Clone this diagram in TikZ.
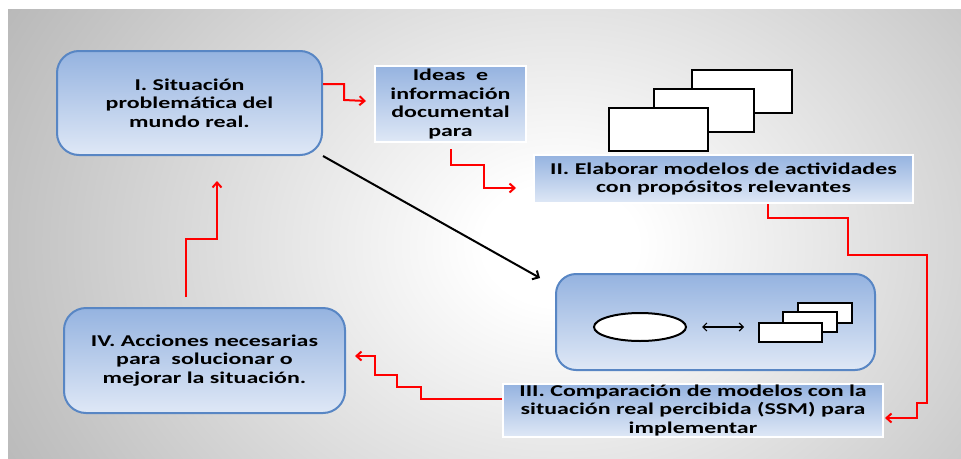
\documentclass[tikz,border=0pt]{standalone}
\usepackage{fontspec}
\setmainfont{Carlito}[FakeStretch=1.45]
\usetikzlibrary{arrows.meta,shapes.geometric}

\definecolor{fondogris}{HTML}{9A9A9A}
\definecolor{fondomedio}{HTML}{A8A8A8}
\definecolor{fondoclaro}{HTML}{C4C4C4}
\definecolor{cajaarriba}{HTML}{95B3E0}
\definecolor{cajaabajo}{HTML}{DFE8F6}
\definecolor{cajaborde}{HTML}{5886C4}

\pgfdeclareradialshading{fondo}{\pgfpoint{0bp}{0bp}}{color(0bp)=(white); color(2bp)=(white); color(14bp)=(fondoclaro); color(20bp)=(fondomedio); color(27.5bp)=(fondogris); color(50bp)=(fondogris)}

\begin{document}
\begin{tikzpicture}[x=1pt,y=-1pt,
    texto/.style={font=\bfseries\fontsize{16.5}{18.5}\selectfont, align=center, inner sep=0pt},
    caja/.style={texto, draw=cajaborde, line width=2pt, rounded corners=22pt, top color=cajaarriba, bottom color=cajaabajo},
    etiqueta/.style={texto, draw=white, line width=2pt, top color=cajaarriba, bottom color=cajaabajo},
    hoja/.style={draw=black, fill=white, line width=2.5pt, inner sep=0pt},
    flecha/.style={draw=red, line width=2pt, -{Straight Barb[length=5pt,width=9pt]}},
    negra/.style={draw=black, line width=2pt, -{Straight Barb[length=5pt,width=10pt]}}]
    \fill[white] (0,0) rectangle (961,458);
    \useasboundingbox (0,0) rectangle (961,458);

    % fondo
    \begin{scope}
    \clip (8,9) rectangle (961,458);
    \shade[shading=fondo] (-400,-515) rectangle (1520,1005);
    \end{scope}

    % cajas
    \node[caja, minimum width=265, minimum height=104] (sit) at (189.5,103) {I. Situación\\problemática del\\mundo real.};
    \node[etiqueta, minimum width=151, minimum height=76] (ideas) at (450.5,104) {Ideas\ \ e\\información\\documental\\para};
    \node[etiqueta, minimum width=379, minimum height=48] (elab) at (723.5,179) {II. Elaborar modelos de actividades\\con propósitos relevantes};
    \node[caja, rounded corners=20pt, minimum width=319, minimum height=96] (modelo) at (715.5,322) {};
    \node[etiqueta, minimum width=380, minimum height=53] (comp) at (693,410.5) {III. Comparación de modelos con la\\situación real percibida (SSM) para\\implementar};
    \node[caja, minimum width=281, minimum height=105] (acc) at (204.5,360.5) {IV. Acciones necesarias\\para\ \ solucionar o\\mejorar la situación.};

    % hojas grandes
    \node[hoja, minimum width=100, minimum height=43] (ha) at (742,91.5) {};
    \node[hoja, minimum width=100, minimum height=43] (hb) at (704,110.5) {};
    \node[hoja, minimum width=99, minimum height=43] (hc) at (658.5,129.5) {};

    % dentro del modelo
    \node[draw=black, fill=white, line width=2pt, ellipse, minimum width=92, minimum height=28, inner sep=0pt] (ovalo) at (640,327) {};
    \node[hoja, line width=2pt, minimum width=54, minimum height=20] (pa) at (825,313) {};
    \node[hoja, line width=2pt, minimum width=54, minimum height=20] (pb) at (810,322) {};
    \node[hoja, line width=2pt, minimum width=63, minimum height=19] (pc) at (790.5,332.5) {};
    \draw[line width=1.2pt, {Straight Barb[length=4pt,width=8pt]}-{Straight Barb[length=4pt,width=8pt]}, shorten <=15pt, shorten >=14pt] (ovalo.east) -- (ovalo.east -| pc.west);

    % flechas
    \draw[flecha] ([yshift=19]sit.east) -| (344,100) -- ([xshift=-8,yshift=3]ideas.west);
    \draw[flecha] ([yshift=-6]ideas.south) |- (484,165) |- ([xshift=-17,yshift=-9]elab.west);
    \draw[flecha] ([xshift=44.5]elab.south) |- (848,218) |- (927,255) |- (917,403) |- ([xshift=1,yshift=-7.5]comp.east);
    \draw[flecha] ([yshift=11.5]comp.west) -| (421,387) -| (397,375) -| (375,356) -- ([xshift=9,yshift=4.5]acc.east);
    \draw[flecha] ([xshift=-18.5,yshift=10]acc.north) |- (217,239) -- ([xshift=27.5,yshift=-25]sit.south);
    \draw[negra] (sit.south east) -- ([xshift=-15,yshift=-5]modelo.north west);
    %\draw[negra] (sit.east) -- (modelo.west);
\end{tikzpicture}
\end{document}
